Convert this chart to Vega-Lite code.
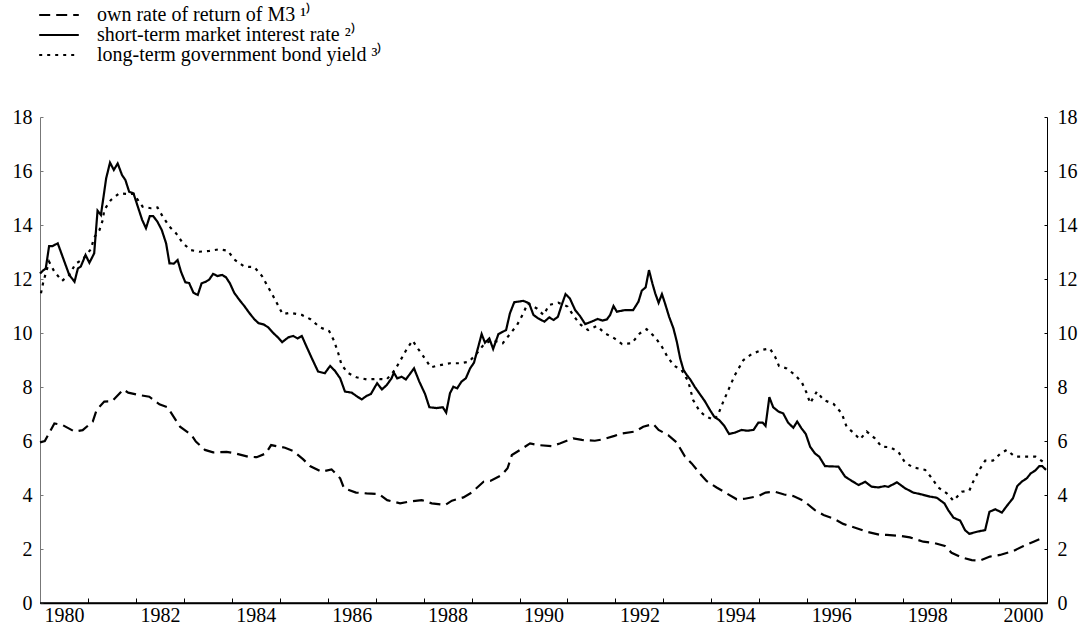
{
  "$schema": "https://vega.github.io/schema/vega-lite/v6.json",
  "width": 1007,
  "height": 486,
  "autosize": {"type": "none"},
  "padding": {"left": 40, "top": 117, "right": 41, "bottom": 24},
  "background": "white",
  "config": {"view": {"stroke": null}, "font": "Liberation Serif"},
  "datasets": {
    "rates": [
      {"series":"short","year":1980.0,"rate":12.2},{"series":"short","year":1980.06,"rate":12.31},{"series":"short","year":1980.12,"rate":12.39},{"series":"short","year":1980.19,"rate":13.22},{"series":"short","year":1980.26,"rate":13.22},{"series":"short","year":1980.37,"rate":13.32},{"series":"short","year":1980.61,"rate":12.15},{"series":"short","year":1980.72,"rate":11.9},{"series":"short","year":1980.79,"rate":12.39},{"series":"short","year":1980.85,"rate":12.46},{"series":"short","year":1980.95,"rate":12.89},{"series":"short","year":1981.03,"rate":12.6},{"series":"short","year":1981.13,"rate":12.95},{"series":"short","year":1981.2,"rate":14.53},{"series":"short","year":1981.27,"rate":14.37},{"series":"short","year":1981.38,"rate":15.73},{"series":"short","year":1981.46,"rate":16.31},{"series":"short","year":1981.54,"rate":16.04},{"series":"short","year":1981.62,"rate":16.28},{"series":"short","year":1981.71,"rate":15.85},{"series":"short","year":1981.78,"rate":15.67},{"series":"short","year":1981.86,"rate":15.23},{"series":"short","year":1981.95,"rate":15.17},{"series":"short","year":1982.04,"rate":14.68},{"series":"short","year":1982.13,"rate":14.19},{"series":"short","year":1982.21,"rate":13.88},{"series":"short","year":1982.29,"rate":14.33},{"series":"short","year":1982.36,"rate":14.33},{"series":"short","year":1982.45,"rate":14.12},{"series":"short","year":1982.54,"rate":13.81},{"series":"short","year":1982.63,"rate":13.32},{"series":"short","year":1982.7,"rate":12.58},{"series":"short","year":1982.79,"rate":12.57},{"series":"short","year":1982.87,"rate":12.7},{"series":"short","year":1982.94,"rate":12.27},{"series":"short","year":1983.03,"rate":11.88},{"series":"short","year":1983.11,"rate":11.85},{"series":"short","year":1983.2,"rate":11.49},{"series":"short","year":1983.29,"rate":11.41},{"series":"short","year":1983.37,"rate":11.84},{"series":"short","year":1983.46,"rate":11.9},{"series":"short","year":1983.53,"rate":11.98},{"series":"short","year":1983.61,"rate":12.19},{"series":"short","year":1983.7,"rate":12.11},{"series":"short","year":1983.8,"rate":12.15},{"series":"short","year":1983.88,"rate":12.06},{"series":"short","year":1983.96,"rate":11.84},{"series":"short","year":1984.05,"rate":11.49},{"series":"short","year":1984.16,"rate":11.22},{"series":"short","year":1984.26,"rate":11.0},{"series":"short","year":1984.37,"rate":10.73},{"series":"short","year":1984.47,"rate":10.51},{"series":"short","year":1984.56,"rate":10.36},{"series":"short","year":1984.66,"rate":10.32},{"series":"short","year":1984.76,"rate":10.21},{"series":"short","year":1984.87,"rate":9.99},{"series":"short","year":1984.96,"rate":9.84},{"series":"short","year":1985.05,"rate":9.66},{"series":"short","year":1985.18,"rate":9.84},{"series":"short","year":1985.28,"rate":9.89},{"series":"short","year":1985.37,"rate":9.8},{"series":"short","year":1985.46,"rate":9.89},{"series":"short","year":1985.56,"rate":9.49},{"series":"short","year":1985.67,"rate":9.06},{"series":"short","year":1985.8,"rate":8.57},{"series":"short","year":1985.94,"rate":8.51},{"series":"short","year":1986.05,"rate":8.78},{"series":"short","year":1986.15,"rate":8.6},{"series":"short","year":1986.26,"rate":8.32},{"series":"short","year":1986.36,"rate":7.83},{"series":"short","year":1986.5,"rate":7.79},{"series":"short","year":1986.62,"rate":7.64},{"series":"short","year":1986.71,"rate":7.54},{"series":"short","year":1986.81,"rate":7.67},{"series":"short","year":1986.9,"rate":7.74},{"series":"short","year":1987.03,"rate":8.14},{"series":"short","year":1987.13,"rate":7.91},{"series":"short","year":1987.23,"rate":8.07},{"series":"short","year":1987.33,"rate":8.32},{"series":"short","year":1987.38,"rate":8.53},{"series":"short","year":1987.45,"rate":8.32},{"series":"short","year":1987.54,"rate":8.38},{"series":"short","year":1987.63,"rate":8.28},{"series":"short","year":1987.8,"rate":8.69},{"series":"short","year":1987.91,"rate":8.2},{"series":"short","year":1988.03,"rate":7.74},{"series":"short","year":1988.12,"rate":7.25},{"series":"short","year":1988.27,"rate":7.22},{"series":"short","year":1988.4,"rate":7.25},{"series":"short","year":1988.47,"rate":7.05},{"series":"short","year":1988.55,"rate":7.77},{"series":"short","year":1988.62,"rate":8.01},{"series":"short","year":1988.7,"rate":7.95},{"series":"short","year":1988.79,"rate":8.2},{"series":"short","year":1988.88,"rate":8.32},{"series":"short","year":1988.97,"rate":8.69},{"series":"short","year":1989.05,"rate":8.9},{"series":"short","year":1989.14,"rate":9.49},{"series":"short","year":1989.21,"rate":9.96},{"series":"short","year":1989.28,"rate":9.64},{"series":"short","year":1989.37,"rate":9.8},{"series":"short","year":1989.45,"rate":9.41},{"series":"short","year":1989.56,"rate":9.96},{"series":"short","year":1989.72,"rate":10.11},{"series":"short","year":1989.8,"rate":10.73},{"series":"short","year":1989.89,"rate":11.14},{"series":"short","year":1990.08,"rate":11.19},{"series":"short","year":1990.2,"rate":11.1},{"series":"short","year":1990.29,"rate":10.67},{"series":"short","year":1990.39,"rate":10.54},{"series":"short","year":1990.52,"rate":10.42},{"series":"short","year":1990.62,"rate":10.58},{"series":"short","year":1990.71,"rate":10.48},{"series":"short","year":1990.8,"rate":10.6},{"series":"short","year":1990.88,"rate":11.04},{"series":"short","year":1990.96,"rate":11.44},{"series":"short","year":1991.05,"rate":11.28},{"series":"short","year":1991.16,"rate":10.85},{"series":"short","year":1991.26,"rate":10.63},{"series":"short","year":1991.37,"rate":10.33},{"series":"short","year":1991.5,"rate":10.42},{"series":"short","year":1991.63,"rate":10.52},{"series":"short","year":1991.73,"rate":10.46},{"series":"short","year":1991.82,"rate":10.5},{"series":"short","year":1991.89,"rate":10.67},{"series":"short","year":1991.96,"rate":11.0},{"series":"short","year":1992.03,"rate":10.79},{"series":"short","year":1992.2,"rate":10.85},{"series":"short","year":1992.37,"rate":10.85},{"series":"short","year":1992.48,"rate":11.16},{"series":"short","year":1992.55,"rate":11.57},{"series":"short","year":1992.63,"rate":11.69},{"series":"short","year":1992.7,"rate":12.33},{"series":"short","year":1992.77,"rate":11.84},{"series":"short","year":1992.83,"rate":11.47},{"series":"short","year":1992.9,"rate":11.12},{"series":"short","year":1992.97,"rate":11.44},{"series":"short","year":1993.03,"rate":11.12},{"series":"short","year":1993.12,"rate":10.6},{"series":"short","year":1993.21,"rate":10.17},{"series":"short","year":1993.28,"rate":9.68},{"series":"short","year":1993.35,"rate":9.06},{"series":"short","year":1993.42,"rate":8.63},{"series":"short","year":1993.49,"rate":8.44},{"series":"short","year":1993.56,"rate":8.28},{"series":"short","year":1993.66,"rate":7.99},{"series":"short","year":1993.76,"rate":7.74},{"series":"short","year":1993.87,"rate":7.46},{"series":"short","year":1993.97,"rate":7.15},{"series":"short","year":1994.06,"rate":6.9},{"series":"short","year":1994.16,"rate":6.78},{"series":"short","year":1994.27,"rate":6.56},{"series":"short","year":1994.37,"rate":6.26},{"series":"short","year":1994.49,"rate":6.31},{"series":"short","year":1994.63,"rate":6.41},{"series":"short","year":1994.75,"rate":6.38},{"series":"short","year":1994.88,"rate":6.41},{"series":"short","year":1994.98,"rate":6.68},{"series":"short","year":1995.07,"rate":6.68},{"series":"short","year":1995.13,"rate":6.56},{"series":"short","year":1995.21,"rate":7.62},{"series":"short","year":1995.29,"rate":7.25},{"series":"short","year":1995.4,"rate":7.09},{"series":"short","year":1995.5,"rate":7.02},{"series":"short","year":1995.6,"rate":6.68},{"series":"short","year":1995.71,"rate":6.49},{"series":"short","year":1995.79,"rate":6.72},{"series":"short","year":1995.88,"rate":6.47},{"series":"short","year":1995.97,"rate":6.26},{"series":"short","year":1996.06,"rate":5.79},{"series":"short","year":1996.16,"rate":5.54},{"series":"short","year":1996.25,"rate":5.42},{"series":"short","year":1996.37,"rate":5.07},{"series":"short","year":1996.5,"rate":5.06},{"series":"short","year":1996.65,"rate":5.05},{"series":"short","year":1996.79,"rate":4.68},{"series":"short","year":1996.93,"rate":4.52},{"series":"short","year":1997.07,"rate":4.37},{"series":"short","year":1997.21,"rate":4.49},{"series":"short","year":1997.34,"rate":4.31},{"series":"short","year":1997.48,"rate":4.28},{"series":"short","year":1997.62,"rate":4.33},{"series":"short","year":1997.69,"rate":4.3},{"series":"short","year":1997.87,"rate":4.47},{"series":"short","year":1998.04,"rate":4.25},{"series":"short","year":1998.21,"rate":4.09},{"series":"short","year":1998.39,"rate":4.02},{"series":"short","year":1998.56,"rate":3.94},{"series":"short","year":1998.7,"rate":3.9},{"series":"short","year":1998.86,"rate":3.69},{"series":"short","year":1998.94,"rate":3.44},{"series":"short","year":1999.05,"rate":3.16},{"series":"short","year":1999.19,"rate":3.05},{"series":"short","year":1999.29,"rate":2.7},{"series":"short","year":1999.38,"rate":2.56},{"series":"short","year":1999.54,"rate":2.64},{"series":"short","year":1999.71,"rate":2.7},{"series":"short","year":1999.8,"rate":3.38},{"series":"short","year":1999.92,"rate":3.47},{"series":"short","year":2000.06,"rate":3.35},{"series":"short","year":2000.16,"rate":3.59},{"series":"short","year":2000.29,"rate":3.88},{"series":"short","year":2000.38,"rate":4.33},{"series":"short","year":2000.47,"rate":4.49},{"series":"short","year":2000.58,"rate":4.62},{"series":"short","year":2000.66,"rate":4.8},{"series":"short","year":2000.75,"rate":4.9},{"series":"short","year":2000.84,"rate":5.07},{"series":"short","year":2000.9,"rate":5.07},{"series":"short","year":2000.98,"rate":4.93},
      {"series":"long","year":1980.02,"rate":11.47},{"series":"long","year":1980.07,"rate":11.9},{"series":"long","year":1980.19,"rate":12.64},{"series":"long","year":1980.3,"rate":12.27},{"series":"long","year":1980.46,"rate":11.93},{"series":"long","year":1980.61,"rate":12.15},{"series":"long","year":1980.74,"rate":12.56},{"series":"long","year":1980.89,"rate":12.73},{"series":"long","year":1981.06,"rate":13.1},{"series":"long","year":1981.13,"rate":13.54},{"series":"long","year":1981.24,"rate":13.81},{"series":"long","year":1981.31,"rate":14.19},{"series":"long","year":1981.34,"rate":14.56},{"series":"long","year":1981.48,"rate":14.93},{"series":"long","year":1981.65,"rate":15.17},{"series":"long","year":1981.81,"rate":15.15},{"series":"long","year":1981.95,"rate":15.15},{"series":"long","year":1982.14,"rate":14.68},{"series":"long","year":1982.31,"rate":14.62},{"series":"long","year":1982.45,"rate":14.65},{"series":"long","year":1982.56,"rate":14.31},{"series":"long","year":1982.7,"rate":13.94},{"series":"long","year":1982.84,"rate":13.69},{"series":"long","year":1982.98,"rate":13.32},{"series":"long","year":1983.15,"rate":13.07},{"series":"long","year":1983.32,"rate":13.01},{"series":"long","year":1983.53,"rate":13.04},{"series":"long","year":1983.73,"rate":13.1},{"series":"long","year":1983.91,"rate":13.05},{"series":"long","year":1984.07,"rate":12.7},{"series":"long","year":1984.26,"rate":12.46},{"series":"long","year":1984.47,"rate":12.44},{"series":"long","year":1984.63,"rate":12.11},{"series":"long","year":1984.75,"rate":11.72},{"series":"long","year":1984.85,"rate":11.41},{"series":"long","year":1984.95,"rate":11.07},{"series":"long","year":1985.06,"rate":10.7},{"series":"long","year":1985.21,"rate":10.75},{"series":"long","year":1985.46,"rate":10.67},{"series":"long","year":1985.64,"rate":10.51},{"series":"long","year":1985.84,"rate":10.21},{"series":"long","year":1986.03,"rate":10.07},{"series":"long","year":1986.13,"rate":9.72},{"series":"long","year":1986.22,"rate":9.25},{"series":"long","year":1986.29,"rate":8.81},{"series":"long","year":1986.43,"rate":8.51},{"series":"long","year":1986.6,"rate":8.36},{"series":"long","year":1986.81,"rate":8.28},{"series":"long","year":1987.03,"rate":8.3},{"series":"long","year":1987.23,"rate":8.28},{"series":"long","year":1987.4,"rate":8.63},{"series":"long","year":1987.54,"rate":9.06},{"series":"long","year":1987.65,"rate":9.41},{"series":"long","year":1987.77,"rate":9.72},{"series":"long","year":1987.89,"rate":9.4},{"series":"long","year":1988.01,"rate":9.1},{"series":"long","year":1988.15,"rate":8.73},{"series":"long","year":1988.34,"rate":8.81},{"series":"long","year":1988.55,"rate":8.88},{"series":"long","year":1988.76,"rate":8.88},{"series":"long","year":1988.95,"rate":8.94},{"series":"long","year":1989.11,"rate":9.25},{"series":"long","year":1989.25,"rate":9.56},{"series":"long","year":1989.42,"rate":9.74},{"series":"long","year":1989.65,"rate":9.62},{"series":"long","year":1989.8,"rate":9.96},{"series":"long","year":1989.95,"rate":10.3},{"series":"long","year":1990.08,"rate":10.73},{"series":"long","year":1990.17,"rate":11.1},{"series":"long","year":1990.36,"rate":10.91},{"series":"long","year":1990.5,"rate":10.67},{"series":"long","year":1990.62,"rate":11.04},{"series":"long","year":1990.81,"rate":11.12},{"series":"long","year":1991.0,"rate":10.98},{"series":"long","year":1991.14,"rate":10.6},{"series":"long","year":1991.28,"rate":10.3},{"series":"long","year":1991.43,"rate":10.11},{"series":"long","year":1991.61,"rate":10.26},{"series":"long","year":1991.78,"rate":9.99},{"series":"long","year":1991.98,"rate":9.8},{"series":"long","year":1992.14,"rate":9.59},{"series":"long","year":1992.34,"rate":9.62},{"series":"long","year":1992.51,"rate":9.99},{"series":"long","year":1992.65,"rate":10.14},{"series":"long","year":1992.83,"rate":9.84},{"series":"long","year":1992.97,"rate":9.49},{"series":"long","year":1993.09,"rate":9.1},{"series":"long","year":1993.23,"rate":8.78},{"series":"long","year":1993.38,"rate":8.63},{"series":"long","year":1993.52,"rate":8.2},{"series":"long","year":1993.62,"rate":7.52},{"series":"long","year":1993.76,"rate":7.09},{"series":"long","year":1993.9,"rate":6.9},{"series":"long","year":1994.06,"rate":6.78},{"series":"long","year":1994.15,"rate":7.02},{"series":"long","year":1994.25,"rate":7.46},{"series":"long","year":1994.37,"rate":7.95},{"series":"long","year":1994.49,"rate":8.44},{"series":"long","year":1994.67,"rate":9.0},{"series":"long","year":1994.84,"rate":9.22},{"series":"long","year":1995.05,"rate":9.37},{"series":"long","year":1995.22,"rate":9.43},{"series":"long","year":1995.33,"rate":9.12},{"series":"long","year":1995.41,"rate":8.78},{"series":"long","year":1995.57,"rate":8.69},{"series":"long","year":1995.75,"rate":8.44},{"series":"long","year":1995.89,"rate":8.16},{"series":"long","year":1995.99,"rate":7.77},{"series":"long","year":1996.06,"rate":7.4},{"series":"long","year":1996.2,"rate":7.83},{"series":"long","year":1996.34,"rate":7.52},{"series":"long","year":1996.55,"rate":7.37},{"series":"long","year":1996.72,"rate":7.02},{"series":"long","year":1996.82,"rate":6.53},{"series":"long","year":1996.96,"rate":6.31},{"series":"long","year":1997.1,"rate":6.06},{"series":"long","year":1997.24,"rate":6.35},{"series":"long","year":1997.41,"rate":6.1},{"series":"long","year":1997.55,"rate":5.79},{"series":"long","year":1997.73,"rate":5.77},{"series":"long","year":1997.9,"rate":5.6},{"series":"long","year":1998.04,"rate":5.2},{"series":"long","year":1998.21,"rate":5.02},{"series":"long","year":1998.46,"rate":4.93},{"series":"long","year":1998.6,"rate":4.62},{"series":"long","year":1998.73,"rate":4.28},{"series":"long","year":1998.91,"rate":4.06},{"series":"long","year":1999.05,"rate":3.79},{"series":"long","year":1999.22,"rate":4.12},{"series":"long","year":1999.38,"rate":4.16},{"series":"long","year":1999.46,"rate":4.49},{"series":"long","year":1999.59,"rate":4.93},{"series":"long","year":1999.71,"rate":5.27},{"series":"long","year":1999.87,"rate":5.27},{"series":"long","year":2000.02,"rate":5.52},{"series":"long","year":2000.16,"rate":5.67},{"series":"long","year":2000.33,"rate":5.42},{"series":"long","year":2000.55,"rate":5.42},{"series":"long","year":2000.76,"rate":5.42},{"series":"long","year":2000.92,"rate":5.23},
      {"series":"M3","year":1980.0,"rate":5.95},{"series":"M3","year":1980.1,"rate":6.0},{"series":"M3","year":1980.3,"rate":6.65},{"series":"M3","year":1980.47,"rate":6.59},{"series":"M3","year":1980.72,"rate":6.35},{"series":"M3","year":1980.89,"rate":6.4},{"series":"M3","year":1981.1,"rate":6.72},{"series":"M3","year":1981.18,"rate":7.15},{"series":"M3","year":1981.34,"rate":7.46},{"series":"M3","year":1981.5,"rate":7.47},{"series":"M3","year":1981.74,"rate":7.91},{"series":"M3","year":1981.84,"rate":7.79},{"series":"M3","year":1982.07,"rate":7.7},{"series":"M3","year":1982.28,"rate":7.64},{"series":"M3","year":1982.49,"rate":7.36},{"series":"M3","year":1982.66,"rate":7.25},{"series":"M3","year":1982.85,"rate":6.72},{"series":"M3","year":1982.92,"rate":6.53},{"series":"M3","year":1983.16,"rate":6.22},{"series":"M3","year":1983.25,"rate":5.98},{"series":"M3","year":1983.44,"rate":5.67},{"series":"M3","year":1983.61,"rate":5.58},{"series":"M3","year":1983.89,"rate":5.6},{"series":"M3","year":1984.07,"rate":5.54},{"series":"M3","year":1984.34,"rate":5.42},{"series":"M3","year":1984.52,"rate":5.4},{"series":"M3","year":1984.71,"rate":5.54},{"series":"M3","year":1984.82,"rate":5.85},{"series":"M3","year":1985.11,"rate":5.75},{"series":"M3","year":1985.28,"rate":5.63},{"series":"M3","year":1985.49,"rate":5.32},{"series":"M3","year":1985.63,"rate":5.07},{"series":"M3","year":1985.87,"rate":4.86},{"series":"M3","year":1986.08,"rate":4.95},{"series":"M3","year":1986.26,"rate":4.62},{"series":"M3","year":1986.34,"rate":4.25},{"series":"M3","year":1986.59,"rate":4.09},{"series":"M3","year":1986.81,"rate":4.06},{"series":"M3","year":1987.06,"rate":4.04},{"series":"M3","year":1987.24,"rate":3.81},{"series":"M3","year":1987.51,"rate":3.69},{"series":"M3","year":1987.68,"rate":3.75},{"series":"M3","year":1987.96,"rate":3.81},{"series":"M3","year":1988.17,"rate":3.69},{"series":"M3","year":1988.45,"rate":3.63},{"series":"M3","year":1988.59,"rate":3.79},{"series":"M3","year":1988.83,"rate":3.91},{"series":"M3","year":1989.0,"rate":4.09},{"series":"M3","year":1989.25,"rate":4.49},{"series":"M3","year":1989.39,"rate":4.52},{"series":"M3","year":1989.63,"rate":4.74},{"series":"M3","year":1989.75,"rate":4.99},{"series":"M3","year":1989.84,"rate":5.48},{"series":"M3","year":1990.01,"rate":5.67},{"series":"M3","year":1990.22,"rate":5.91},{"series":"M3","year":1990.39,"rate":5.85},{"series":"M3","year":1990.67,"rate":5.81},{"series":"M3","year":1990.84,"rate":5.91},{"series":"M3","year":1991.12,"rate":6.1},{"series":"M3","year":1991.3,"rate":6.04},{"series":"M3","year":1991.57,"rate":6.01},{"series":"M3","year":1991.74,"rate":6.06},{"series":"M3","year":1991.98,"rate":6.19},{"series":"M3","year":1992.13,"rate":6.28},{"series":"M3","year":1992.41,"rate":6.35},{"series":"M3","year":1992.58,"rate":6.53},{"series":"M3","year":1992.79,"rate":6.63},{"series":"M3","year":1992.9,"rate":6.41},{"series":"M3","year":1993.1,"rate":6.22},{"series":"M3","year":1993.28,"rate":5.94},{"series":"M3","year":1993.45,"rate":5.42},{"series":"M3","year":1993.59,"rate":5.17},{"series":"M3","year":1993.76,"rate":4.8},{"series":"M3","year":1993.9,"rate":4.52},{"series":"M3","year":1994.11,"rate":4.28},{"series":"M3","year":1994.29,"rate":4.09},{"series":"M3","year":1994.53,"rate":3.84},{"series":"M3","year":1994.7,"rate":3.86},{"series":"M3","year":1994.98,"rate":3.96},{"series":"M3","year":1995.13,"rate":4.09},{"series":"M3","year":1995.33,"rate":4.12},{"series":"M3","year":1995.52,"rate":4.02},{"series":"M3","year":1995.71,"rate":3.96},{"series":"M3","year":1995.92,"rate":3.79},{"series":"M3","year":1996.16,"rate":3.44},{"series":"M3","year":1996.34,"rate":3.26},{"series":"M3","year":1996.58,"rate":3.1},{"series":"M3","year":1996.75,"rate":2.93},{"series":"M3","year":1997.03,"rate":2.77},{"series":"M3","year":1997.24,"rate":2.64},{"series":"M3","year":1997.52,"rate":2.52},{"series":"M3","year":1997.66,"rate":2.52},{"series":"M3","year":1997.97,"rate":2.48},{"series":"M3","year":1998.14,"rate":2.43},{"series":"M3","year":1998.42,"rate":2.27},{"series":"M3","year":1998.63,"rate":2.23},{"series":"M3","year":1998.87,"rate":2.11},{"series":"M3","year":1999.01,"rate":1.86},{"series":"M3","year":1999.22,"rate":1.69},{"series":"M3","year":1999.43,"rate":1.59},{"series":"M3","year":1999.6,"rate":1.57},{"series":"M3","year":1999.81,"rate":1.72},{"series":"M3","year":2000.02,"rate":1.78},{"series":"M3","year":2000.3,"rate":1.93},{"series":"M3","year":2000.51,"rate":2.11},{"series":"M3","year":2000.72,"rate":2.27},{"series":"M3","year":2000.84,"rate":2.36}
    ]
  },
  "layer": [
    {
      "data": {"name": "rates"},
      "mark": {"type": "line", "color": "black", "strokeWidth": 2.2, "strokeCap": "butt"},
      "encoding": {
        "x": {
          "field": "year", "type": "quantitative",
          "scale": {"domain": [1980, 2001], "nice": false, "zero": false},
          "axis": {
            "title": null,
            "values": [1980,1981,1982,1983,1984,1985,1986,1987,1988,1989,1990,1991,1992,1993,1994,1995,1996,1997,1998,1999,2000],
            "labelExpr": "datum.value % 2 == 0 ? format(datum.value, 'd') : ''",
            "labelOffset": 24,
            "labelOverlap": false,
            "labelFlush": false,
            "labelBound": false,
            "tickSize": -5,
            "tickColor": "black",
            "domainColor": "black",
            "domainWidth": 1.5,
            "labelPadding": 7,
            "labelFont": "Liberation Serif",
            "labelFontSize": 20,
            "labelColor": "black",
            "grid": false
          }
        },
        "y": {
          "field": "rate", "type": "quantitative",
          "scale": {"domain": [0, 18], "nice": false},
          "axis": {
            "orient": "left",
            "title": null,
            "values": [0,2,4,6,8,10,12,14,16,18],
            "tickSize": -3,
            "tickColor": "#777777",
            "domainColor": "#777777",
            "labelPadding": 11,
            "labelFont": "Liberation Serif",
            "labelFontSize": 20,
            "labelColor": "black",
            "grid": false
          }
        },
        "strokeDash": {
          "field": "series", "type": "nominal",
          "scale": {"domain": ["M3", "short", "long"], "range": [[11, 6], [1, 0], [3, 5]]},
          "legend": {
            "orient": "none",
            "legendX": 9,
            "legendY": -112,
            "title": null,
            "symbolType": "M-2.2,0H2.2",
            "symbolSize": 324,
            "symbolStrokeWidth": 2,
            "symbolStrokeColor": "black",
            "labelFont": "Liberation Serif",
            "labelFontSize": 20,
            "labelColor": "black",
            "labelOffset": 28,
            "labelLimit": 0,
            "rowPadding": -1.5,
            "labelExpr": "datum.value == 'M3' ? 'own rate of return of M3 ¹⁾' : datum.value == 'short' ? 'short-term market interest rate ²⁾' : 'long-term government bond yield ³⁾'"
          }
        }
      }
    },
    {
      "data": {"values": [{}]},
      "mark": {"type": "rule", "color": "black", "strokeWidth": 1.5},
      "encoding": {
        "y": {
          "datum": 0, "type": "quantitative",
          "axis": {
            "orient": "right",
            "title": null,
            "values": [0,2,4,6,8,10,12,14,16,18],
            "tickSize": -3,
            "tickColor": "black",
            "domainColor": "black",
            "labelPadding": 13,
            "labelFont": "Liberation Serif",
            "labelFontSize": 20,
            "labelColor": "black",
            "grid": false
          }
        }
      }
    }
  ],
  "resolve": {"axis": {"y": "independent"}}
}
